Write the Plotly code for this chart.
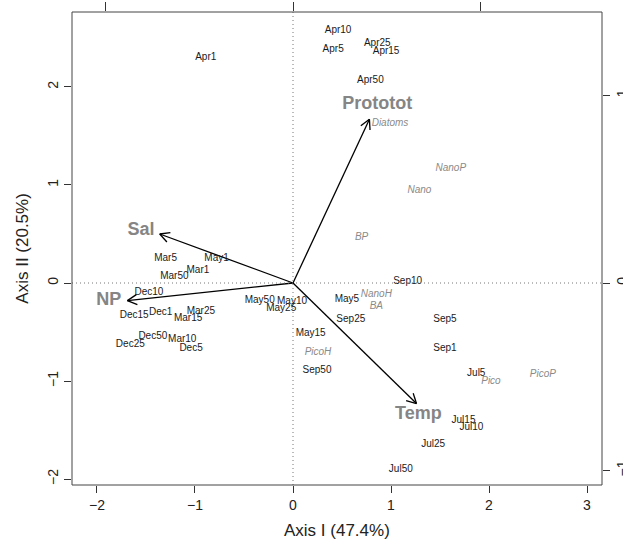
import numpy as np
import plotly.graph_objects as go

# ---- site scores (black labels) ----
site_labels = ["Apr1", "Apr10", "Apr5", "Apr25", "Apr15", "Apr50",
               "Mar5", "May1", "Mar1", "Mar50", "Dec10", "Dec15", "Dec1",
               "Mar25", "Mar15", "Dec50", "Dec25", "Mar10", "Dec5",
               "May50", "May10", "May25", "May15", "Sep50", "May5",
               "Sep10", "Sep25", "Sep5", "Sep1", "Jul5", "Jul15", "Jul10",
               "Jul25", "Jul50"]
site_x = [-0.89, 0.46, 0.41, 0.86, 0.95, 0.79,
          -1.30, -0.78, -0.97, -1.21, -1.47, -1.62, -1.35,
          -0.94, -1.07, -1.43, -1.66, -1.13, -1.04,
          -0.34, -0.01, -0.12, 0.18, 0.245, 0.55,
          1.17, 0.59, 1.55, 1.55, 1.87, 1.74, 1.82,
          1.43, 1.10]
site_y = [2.30, 2.58, 2.38, 2.44, 2.36, 2.07,
          0.245, 0.245, 0.13, 0.07, -0.10, -0.33, -0.30,
          -0.29, -0.36, -0.55, -0.63, -0.58, -0.67,
          -0.18, -0.19, -0.26, -0.52, -0.89, -0.17,
          0.02, -0.37, -0.37, -0.67, -0.92, -1.40, -1.47,
          -1.65, -1.90]

# ---- species scores (grey italic labels) ----
sp_labels = ["Diatoms", "NanoP", "Nano", "BP", "NanoH", "BA", "PicoH", "Pico", "PicoP"]
sp_x = [0.99, 1.61, 1.29, 0.70, 0.85, 0.85, 0.255, 2.02, 2.55]
sp_y = [1.63, 1.17, 0.94, 0.46, -0.12, -0.235, -0.71, -1.01, -0.93]

# ---- environmental vectors ----
env_labels = ["Prototot", "Sal", "NP", "Temp"]
env_x = [0.78, -1.36, -1.69, 1.26]
env_y = [1.67, 0.50, -0.18, -1.23]
env_lab_x = [0.86, -1.55, -1.88, 1.28]
env_lab_y = [1.82, 0.54, -0.18, -1.34]

# ---- axes ----
x_ticks = [-2, -1, 0, 1, 2, 3]
y_ticks = [-2, -1, 0, 1, 2]
x_tick_text = ["\u22122", "\u22121", "0", "1", "2", "3"]
y_tick_text = ["\u22122", "\u22121", "0", "1", "2"]
x2_ticks = [-1, 0, 1]
y2_ticks = [-1, 0, 1]
y2_tick_text = ["\u22121", "0", "1"]
x_title = "Axis I (47.4%)"
y_title = "Axis II (20.5%)"

W, H = 623, 544
ml, mt = 72, 12
plot_w, plot_h = 530, 473
mr = W - ml - plot_w
mb = H - mt - plot_h
X_RANGE = [-2.255, 3.153]
Y_RANGE = [-2.061, 2.765]
X2_RANGE = [-1.179, 1.648]
Y2_RANGE = [-1.077, 1.445]

FONT = "Liberation Sans, Arial, Helvetica, sans-serif"

fig = go.Figure()

# arrows: shafts + open arrowheads computed from the tips
ax, ay = [], []
head_len = 0.11
ang = np.deg2rad(28)
for tx, ty in zip(env_x, env_y):
    ax += [0, tx, None]
    ay += [0, ty, None]
    th = np.arctan2(ty, tx)
    for s in (1, -1):
        a = th + np.pi + s * ang
        ax += [tx + head_len * np.cos(a), tx, None]
        ay += [ty + head_len * np.sin(a), ty, None]
fig.add_trace(go.Scatter(x=ax, y=ay, mode="lines",
                         line=dict(color="black", width=1.3),
                         hoverinfo="skip", showlegend=False))

fig.add_trace(go.Scatter(x=site_x, y=site_y, mode="text", text=site_labels,
                         textfont=dict(family=FONT, size=10, color="#1a1a1a"),
                         hoverinfo="skip", showlegend=False))

fig.add_trace(go.Scatter(x=sp_x, y=sp_y, mode="text", text=sp_labels,
                         textfont=dict(family=FONT, size=10, color="#8a8a8a", style="italic"),
                         hoverinfo="skip", showlegend=False))

fig.add_trace(go.Scatter(x=env_lab_x, y=env_lab_y, mode="text", text=env_labels,
                         textfont=dict(family=FONT, size=18, color="#858585", weight="bold"),
                         hoverinfo="skip", showlegend=False))

# invisible trace to anchor the secondary (top/right) axes
fig.add_trace(go.Scatter(x=[0], y=[0], xaxis="x2", yaxis="y2", mode="markers",
                         marker=dict(opacity=0), hoverinfo="skip", showlegend=False))

axis_common = dict(showgrid=False, zeroline=False, showline=False, automargin=False,
                   ticks="outside", tickcolor="#333", tickwidth=1,
                   tickfont=dict(family=FONT, size=14, color="#222"))

fig.update_layout(
    width=W, height=H,
    margin=dict(l=ml, r=mr, t=mt, b=mb, autoexpand=False),
    paper_bgcolor="white", plot_bgcolor="white",
    font=dict(family=FONT),
    xaxis=dict(range=X_RANGE, tickvals=x_ticks, ticktext=x_tick_text,
               ticklen=7, **axis_common),
    yaxis=dict(range=Y_RANGE, tickvals=y_ticks, ticktext=y_tick_text,
               ticklen=7, tickangle=-90, **axis_common),
    xaxis2=dict(range=X2_RANGE, tickvals=x2_ticks, overlaying="x", side="top",
                anchor="y", ticklen=9, showticklabels=False, **axis_common),
    yaxis2=dict(range=Y2_RANGE, tickvals=y2_ticks, ticktext=y2_tick_text,
                overlaying="y", side="right", anchor="x", ticklen=7,
                tickangle=-90, **axis_common),
    shapes=[
        dict(type="line", xref="x", yref="paper", x0=0, x1=0, y0=0, y1=1,
             line=dict(color="#777", width=1, dash="1px,3px")),
        dict(type="line", xref="paper", yref="y", x0=0, x1=1, y0=0, y1=0,
             line=dict(color="#777", width=1, dash="1px,3px")),
        dict(type="rect", xref="paper", yref="paper", x0=0, x1=1, y0=0, y1=1,
             line=dict(color="#444", width=1)),
    ],
    annotations=[
        dict(text=x_title, xref="paper", yref="paper", x=0.5, y=-0.097,
             xanchor="center", yanchor="middle", showarrow=False,
             font=dict(family=FONT, size=17, color="#222")),
        dict(text=y_title, xref="paper", yref="paper", x=-0.094, y=0.5,
             xanchor="center", yanchor="middle", showarrow=False, textangle=-90,
             font=dict(family=FONT, size=17, color="#222")),
    ],
)

fig.write_html("out.html",
               config={"displayModeBar": False},
               post_script="document.body.style.margin='0';")
